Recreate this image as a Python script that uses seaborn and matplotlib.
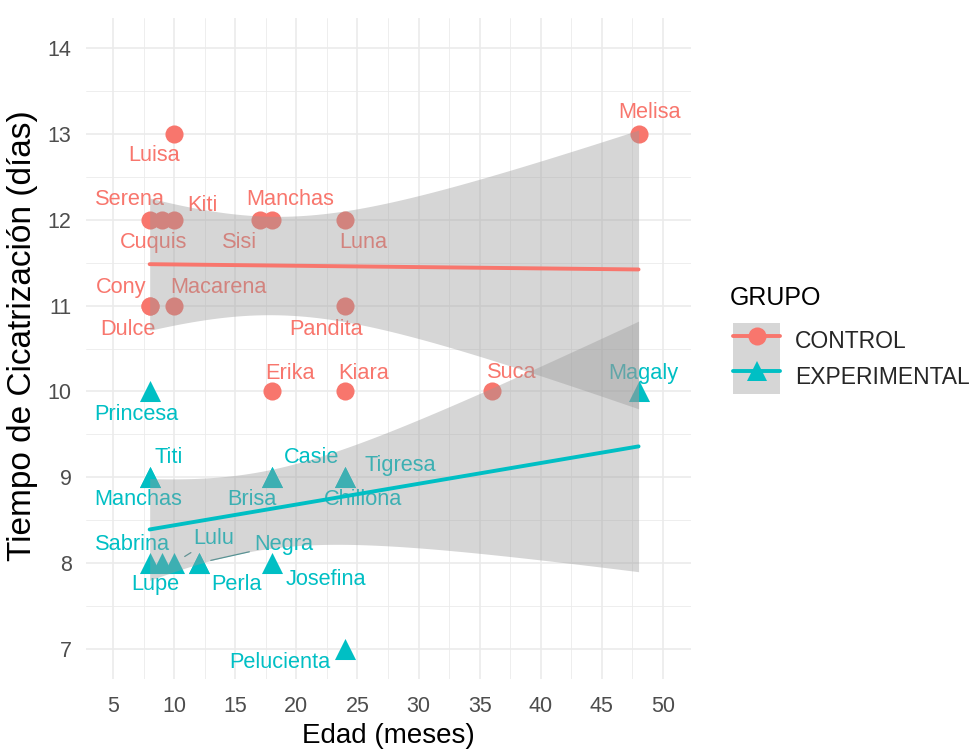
import numpy as np
import pandas as pd
import matplotlib
matplotlib.use("Agg")
import matplotlib.pyplot as plt
from matplotlib.patches import Patch
from matplotlib.lines import Line2D
from matplotlib.legend_handler import HandlerTuple
import seaborn as sns

# ---- data ------------------------------------------------------------
ctrl_names = ["Luisa", "Serena", "Cuquis", "Kiti", "Sisi", "Manchas", "Luna",
              "Cony", "Dulce", "Macarena", "Pandita", "Erika", "Kiara", "Suca", "Melisa"]
ctrl_edad = [10, 8, 9, 10, 17, 18, 24, 8, 8, 10, 24, 18, 24, 36, 48]
ctrl_dias = [13, 12, 12, 12, 12, 12, 12, 11, 11, 11, 11, 10, 10, 10, 13]

exp_names = ["Princesa", "Titi", "Manchas", "Casie", "Brisa", "Tigresa", "Chillona",
             "Sabrina", "Lupe", "Lulu", "Perla", "Negra", "Josefina", "Pelucienta", "Magaly"]
exp_edad = [8, 8, 8, 18, 18, 24, 24, 8, 9, 10, 12, 12, 18, 24, 48]
exp_dias = [10, 9, 9, 9, 9, 9, 9, 8, 8, 8, 8, 8, 8, 7, 10]

groups = ["CONTROL", "EXPERIMENTAL"]
x_ticks = [5, 10, 15, 20, 25, 30, 35, 40, 45, 50]
y_ticks = [7, 8, 9, 10, 11, 12, 13, 14]

df = pd.DataFrame({
    "nombre": ctrl_names + exp_names,
    "edad": ctrl_edad + exp_edad,
    "dias": ctrl_dias + exp_dias,
    "grupo": [groups[0]] * len(ctrl_names) + [groups[1]] * len(exp_names),
})

# ---- style -----------------------------------------------------------
palette = {"CONTROL": "#F8766D", "EXPERIMENTAL": "#00BFC4"}
markers = {"CONTROL": "o", "EXPERIMENTAL": "^"}
sizes = {"CONTROL": 170, "EXPERIMENTAL": 230}
band_color = "#999999"
grid_col = "#EBEBEB"

sns.set_theme(style="white")
plt.rcParams["font.family"] = ["Liberation Sans", "DejaVu Sans"]

# label offsets in pixels (dx right, dy down) so the names sit clear of the marks
offsets = {
    ("CONTROL", "Luisa"): (-20, 22), ("CONTROL", "Serena"): (-20, -20),
    ("CONTROL", "Cuquis"): (-8, 23), ("CONTROL", "Kiti"): (28, -14),
    ("CONTROL", "Sisi"): (-20, 23), ("CONTROL", "Manchas"): (18, -20),
    ("CONTROL", "Luna"): (18, 23), ("CONTROL", "Cony"): (-29, -18),
    ("CONTROL", "Dulce"): (-22, 24), ("CONTROL", "Macarena"): (44, -18),
    ("CONTROL", "Pandita"): (-19, 24), ("CONTROL", "Erika"): (18, -18),
    ("CONTROL", "Kiara"): (18, -18), ("CONTROL", "Suca"): (20, -19),
    ("CONTROL", "Melisa"): (11, -21),
    ("EXPERIMENTAL", "Princesa"): (-13, 23), ("EXPERIMENTAL", "Titi"): (19, -20),
    ("EXPERIMENTAL", "Manchas"): (-11, 22), ("EXPERIMENTAL", "Casie"): (40, -20),
    ("EXPERIMENTAL", "Brisa"): (-20, 22), ("EXPERIMENTAL", "Tigresa"): (55, -12),
    ("EXPERIMENTAL", "Chillona"): (18, 22), ("EXPERIMENTAL", "Sabrina"): (-17, -19),
    ("EXPERIMENTAL", "Lupe"): (-7, 21), ("EXPERIMENTAL", "Lulu"): (40, -25),
    ("EXPERIMENTAL", "Perla"): (38, 21), ("EXPERIMENTAL", "Negra"): (85, -19),
    ("EXPERIMENTAL", "Josefina"): (54, 16), ("EXPERIMENTAL", "Pelucienta"): (-65, 14),
    ("EXPERIMENTAL", "Magaly"): (5, -18),
}
with_segment = {("EXPERIMENTAL", "Lulu"), ("EXPERIMENTAL", "Negra")}

W, H = 972, 751
fig = plt.figure(figsize=(W / 100, H / 100), dpi=100)
pl, pr, pt, pb = 85.5, 690.5, 18, 679
ax = fig.add_axes([pl / W, 1 - pb / H, (pr - pl) / W, (pb - pt) / H])

# ---- points ----------------------------------------------------------
for g in groups:
    sub = df[df["grupo"] == g]
    sns.scatterplot(data=sub, x="edad", y="dias", color=palette[g], marker=markers[g],
                    s=sizes[g], linewidth=0, legend=False, ax=ax, zorder=2)

# ---- name labels -----------------------------------------------------
for _, r in df.iterrows():
    key = (r["grupo"], r["nombre"])
    dx, dy = offsets[key]
    kw = {}
    if key in with_segment:
        kw["arrowprops"] = dict(arrowstyle="-", color="#3f8f91", lw=0.9,
                                shrinkA=1, shrinkB=9)
    ax.annotate(r["nombre"], xy=(r["edad"], r["dias"]), xytext=(dx, -dy),
                textcoords="offset pixels", ha="center", va="center",
                fontsize=15.7, color=palette[r["grupo"]], zorder=3, **kw)

# ---- linear fits with 95% confidence band ----------------------------
try:
    from scipy import stats
    def tq(df_):
        return stats.t.ppf(0.975, df_)
except Exception:
    def tq(df_):
        return 2.160

for g in groups:
    sub = df[df["grupo"] == g]
    x = sub["edad"].to_numpy(float)
    y = sub["dias"].to_numpy(float)
    n = len(x)
    b1, b0 = np.polyfit(x, y, 1)
    resid = y - (b0 + b1 * x)
    s = np.sqrt(np.sum(resid ** 2) / (n - 2))
    xs = np.linspace(x.min(), x.max(), 80)
    se = s * np.sqrt(1 / n + (xs - x.mean()) ** 2 / np.sum((x - x.mean()) ** 2))
    fit = b0 + b1 * xs
    ax.fill_between(xs, fit - tq(n - 2) * se, fit + tq(n - 2) * se,
                    color=band_color, alpha=0.4, lw=0, zorder=4)
    sns.regplot(data=sub, x="edad", y="dias", scatter=False, ci=None, truncate=True,
                color=palette[g], line_kws=dict(lw=2.8, zorder=5), ax=ax)

# ---- axes ------------------------------------------------------------
ax.set_xticks(x_ticks)
ax.set_yticks(y_ticks)
ax.set_xticks([v + 2.5 for v in [0] + x_ticks], minor=True)
ax.set_yticks([v - 0.5 for v in y_ticks] + [14.5], minor=True)
ax.set_xlim(2.75, 52.25)
ax.set_ylim(6.65, 14.35)
ax.grid(True, which="major", color=grid_col, lw=1.2, zorder=0)
ax.grid(True, which="minor", color=grid_col, lw=0.6, zorder=0)
ax.set_axisbelow(True)
for sp in ax.spines.values():
    sp.set_visible(False)
ax.tick_params(which="both", length=0)
ax.tick_params(axis="x", pad=12, labelsize=15.5, labelcolor="#4D4D4D")
ax.tick_params(axis="y", pad=10, labelsize=15.5, labelcolor="#4D4D4D")

ax.set_xlabel("Edad (meses)", fontsize=20, color="black", va="center")
ax.set_ylabel("Tiempo de Cicatrización (días)", fontsize=24, color="black")
ax.xaxis.set_label_coords(0.5, (pb - 736) / (pb - pt))
ax.yaxis.set_label_coords((38 - pl) / (pr - pl), 0.52)

# ---- legend ------------------------------------------------------------
fig.text(730 / W, 1 - 298 / H, "GRUPO", fontsize=18, ha="left", va="center", color="black")
handles = []
for g in groups:
    bg = Patch(facecolor=band_color, alpha=0.4, edgecolor="none")
    ln = Line2D([], [], color=palette[g], lw=2.8, marker=markers[g],
                markersize=13 if g == "CONTROL" else 15, markeredgewidth=0)
    handles.append((bg, ln))
fs_leg = 16.5
fs_px = fs_leg * 100 / 72
fig.legend(handles, groups, handler_map={tuple: HandlerTuple(ndivide=1, pad=0)},
           loc="upper left", bbox_to_anchor=(733 / W, 1 - 323 / H), frameon=False,
           fontsize=fs_leg, borderpad=0, borderaxespad=0, labelspacing=0,
           handlelength=47 / fs_px, handleheight=46 / fs_px,
           handletextpad=15 / fs_px, numpoints=1)

fig.savefig("out.png", dpi=100, facecolor="white")
